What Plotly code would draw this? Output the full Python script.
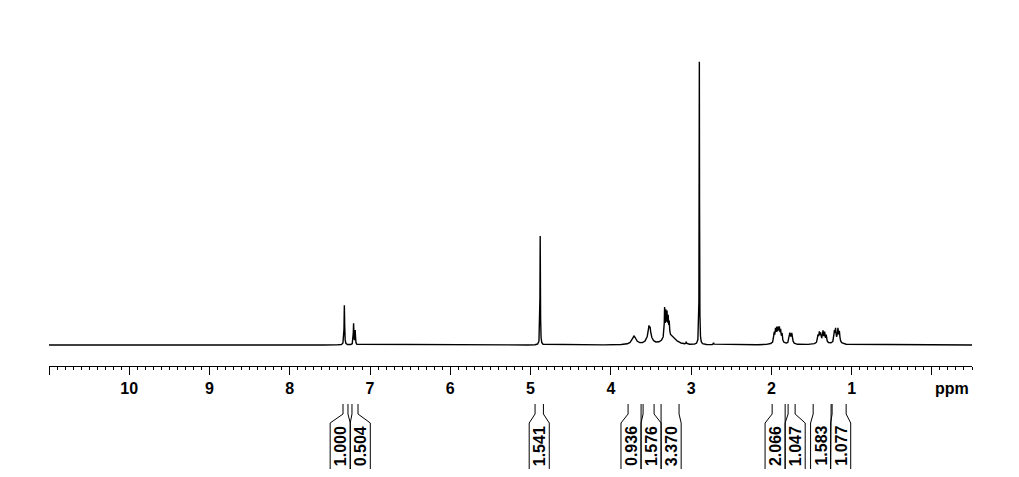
import numpy as np
import plotly.graph_objects as go

# peak list: shift (ppm), height (tallest line = 100), half width (ppm)
peak_ppm = [7.320, 7.205, 7.185, 4.880,
            3.710, 3.520, 3.525, 3.510,
            3.300, 3.330, 3.315, 3.300, 3.285, 3.272, 3.220, 3.060,
            2.897, 2.720,
            1.915, 1.965, 1.948, 1.932, 1.915, 1.900, 1.884, 1.866,
            1.770, 1.745,
            1.370, 1.418, 1.402, 1.386, 1.356, 1.336, 1.316,
            1.180, 1.215, 1.200, 1.170, 1.152]
peak_height = [14.0, 7.5, 5.0, 38.5,
               3.0, 4.6, 2.0, 1.8,
               4.5, 9.5, 7.0, 6.0, 5.0, 4.0, 1.8, 0.8,
               100.0, 0.7,
               2.0, 3.2, 3.8, 3.6, 3.2, 3.6, 3.4, 2.8,
               3.6, 3.6,
               1.5, 2.4, 3.0, 2.4, 3.2, 3.0, 2.4,
               1.5, 3.6, 4.0, 4.0, 3.4]
peak_width = [0.004, 0.004, 0.004, 0.003,
              0.030, 0.030, 0.005, 0.005,
              0.040, 0.004, 0.004, 0.004, 0.004, 0.004, 0.050, 0.004,
              0.0025, 0.004,
              0.040, 0.006, 0.006, 0.006, 0.006, 0.006, 0.006, 0.006,
              0.010, 0.010,
              0.050, 0.006, 0.006, 0.006, 0.006, 0.006, 0.006,
              0.040, 0.006, 0.006, 0.006, 0.006]

# integral regions (ppm) and their values
int_start = [7.337, 7.225, 4.944, 3.785, 3.598, 3.374, 1.990, 1.791, 1.479, 1.243]
int_end = [7.275, 7.150, 4.840, 3.623, 3.461, 3.150, 1.828, 1.704, 1.255, 1.068]
int_value = ["1.000", "0.504", "1.541", "0.936", "1.576", "3.370",
             "2.066", "1.047", "1.583", "1.077"]

tick_vals = [11, 10, 9, 8, 7, 6, 5, 4, 3, 2, 1, 0]
tick_text = ["", "10", "9", "8", "7", "6", "5", "4", "3", "2", "1", ""]

# spectrum built from the peak list
ppm = np.arange(-0.5, 11.0001, 0.0005)
intensity = np.zeros_like(ppm)
for p, h, w in zip(peak_ppm, peak_height, peak_width):
    intensity += h * w**2 / ((ppm - p)**2 + w**2)

# page pixel helpers (the html body adds an 8 px offset)
# baseline at y=345 px on the page, 2.83 px per unit
OFFSET = 8
PX_PER_UNIT = 2.83
TOP, BOTTOM = 18, 472
def py(pixel):
    return (345 - pixel) / PX_PER_UNIT

FONT = dict(family="Liberation Sans, Arial", size=16, color="black", weight="bold")

# place label boxes: overlapping boxes are grouped and centred on their mean
box_w = 0.25
centers = [(a + b) / 2 for a, b in zip(int_start, int_end)]
groups = [[i] for i in range(len(centers))]
merged = True
while merged:
    merged = False
    for g in range(len(groups) - 1):
        a, b = groups[g], groups[g + 1]
        ca = np.mean([centers[i] for i in a])
        cb = np.mean([centers[i] for i in b])
        low_a = ca - (len(a) - 1) / 2 * box_w
        high_b = cb + (len(b) - 1) / 2 * box_w
        if low_a - high_b < box_w:
            groups[g] = a + b
            del groups[g + 1]
            merged = True
            break
box_c = [0.0] * len(centers)
for grp in groups:
    gc = np.mean([centers[i] for i in grp])
    for k, i in enumerate(grp):
        box_c[i] = gc + ((len(grp) - 1) / 2 - k) * box_w

# bracket lines
bx, by = [], []
y_top, y_d1, y_d2, y_bot = py(404), py(414), py(423), py(469)
for i in range(len(centers)):
    for edge, box_edge in [(int_start[i], box_c[i] + box_w / 2), (int_end[i], box_c[i] - box_w / 2)]:
        bx += [edge, edge, box_edge, box_edge, None]
        by += [y_top, y_d1, y_d2, y_bot, None]

fig = go.Figure()
fig.add_trace(go.Scatter(x=ppm, y=intensity, mode="lines",
                         line=dict(color="black", width=1.4), hoverinfo="skip"))
fig.add_trace(go.Scatter(x=bx, y=by, mode="lines",
                         line=dict(color="black", width=1), hoverinfo="skip"))

for c, v in zip(box_c, int_value):
    fig.add_annotation(x=c, y=py(446), text=v, textangle=-90, showarrow=False,
                       xanchor="center", yanchor="middle", font=FONT)

fig.add_annotation(x=-0.25, y=py(388), text="ppm", showarrow=False,
                   xanchor="center", yanchor="middle", font=FONT)

fig.update_layout(
    width=1019, height=477,
    margin=dict(l=49 - OFFSET, r=47 + OFFSET, t=TOP - OFFSET, b=477 - (BOTTOM - OFFSET)),
    plot_bgcolor="white", paper_bgcolor="white",
    showlegend=False,
    xaxis=dict(range=[11, -0.5], anchor="free", position=(BOTTOM - 366) / (BOTTOM - TOP),
               showline=True, linecolor="black", linewidth=1,
               ticks="outside", ticklen=8, tickwidth=1, tickcolor="black",
               tickmode="array", tickvals=tick_vals, ticktext=tick_text,
               tickfont=FONT,
               minor=dict(tickmode="linear", tick0=0, dtick=0.1, ticks="outside",
                          ticklen=3, tickwidth=1, tickcolor="black", showgrid=False),
               showgrid=False, zeroline=False),
    yaxis=dict(range=[py(BOTTOM), py(TOP)], visible=False, showgrid=False, zeroline=False),
)

fig.write_html("out.html")
